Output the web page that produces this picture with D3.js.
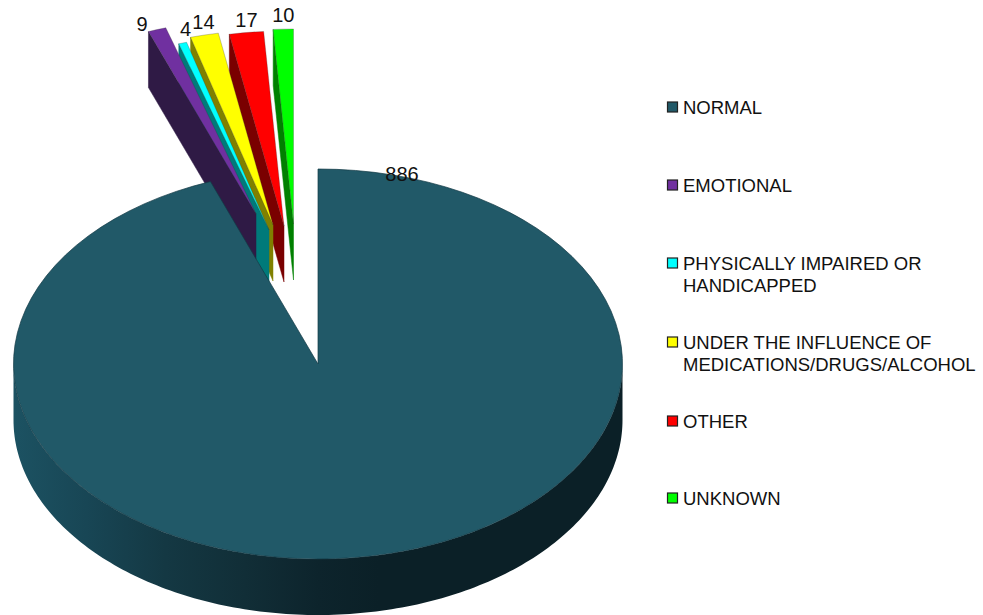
<!DOCTYPE html>
<html>
<head>
<meta charset="utf-8">
<script src="https://cdn.jsdelivr.net/npm/d3@7/dist/d3.min.js"></script>
<style>
html,body{margin:0;padding:0;background:#fff;}
svg{display:block;}
text{font-family:"Liberation Sans",Arial,sans-serif;fill:#111;}
</style>
</head>
<body>
<svg id="chart" width="983" height="615"></svg>
<script>
// ---- data ----
const categories = ["NORMAL","EMOTIONAL","PHYSICALLY IMPAIRED OR HANDICAPPED","UNDER THE INFLUENCE OF MEDICATIONS/DRUGS/ALCOHOL","OTHER","UNKNOWN"];
const values = [886,9,4,14,17,10];
const legendLines = [["NORMAL"],["EMOTIONAL"],["PHYSICALLY IMPAIRED OR","HANDICAPPED"],["UNDER THE INFLUENCE OF","MEDICATIONS/DRUGS/ALCOHOL"],["OTHER"],["UNKNOWN"]];

// ---- style and layout ----
const topColors  = ["#215968","#7030A0","#00FFFF","#FFFF00","#FF0000","#00FF00"];
const sideColors = ["#215968","#2F1A45","#007A7A","#808000","#7A0000","#008000"];
const W=983,H=615, cx=318, cy=364, rx=304.5, ry=195, depth=56;
// how far each slice has been pulled from the pie centre
const explode = [[0,0],[-62,-150],[-49,-134],[-45,-139],[-34,-138],[-24.5,-140]];
// data label centres relative to the exploded slice's outer midpoint
const labelNudge = [[0,0],[-15,-6],[3,-14],[-1,-13],[0,-12],[0,-14]];
const legendY = [107.5,185.5,263.5,342.5,421.5,498.5];

const svg = d3.select("#chart");
const defs = svg.append("defs");
const grad = defs.append("linearGradient").attr("id","rim").attr("gradientUnits","userSpaceOnUse")
  .attr("x1",cx-rx).attr("x2",cx+rx).attr("y1",0).attr("y2",0);
[[0,"#1C5262"],[0.12,"#184655"],[0.25,"#143843"],[0.38,"#112E37"],[0.5,"#0D242C"],[0.6,"#0B2027"],[1,"#0B2027"]]
  .forEach(s=>grad.append("stop").attr("offset",s[0]).attr("stop-color",s[1]));

const rxScale = d3.scaleLinear().domain([0,1]).range([0,rx]);
const ryScale = d3.scaleLinear().domain([0,1]).range([0,ry]);
const px = (a,o)=> cx + o[0] + rxScale(Math.sin(a));
const py = (a,o)=> cy + o[1] - ryScale(Math.cos(a));

// the pie starts with NORMAL at twelve o'clock, clockwise; the small slices finish at 360 degrees
const pie = d3.pie().sort(null).value(d=>d);
const arcs = pie(values);
const arc = d3.arc().innerRadius(0).outerRadius(ry);
const sx = rx/ry;

const area = d3.area().x(d=>d.x).y0(d=>d.y).y1(d=>d.y+depth).curve(d3.curveLinear);
const rimPts = d3.range(Math.PI/2, 3*Math.PI/2+0.001, Math.PI/180).map(a=>({x:px(a,[0,0]),y:py(a,[0,0])}));

// exploded slices are painted from right to left, so each one hides part of the side of its right neighbour
const small = svg.append("g");
arcs.slice(1).reverse().forEach(d=>{
  const i = d.index;
  const o = explode[i];
  const apex = {x:cx+o[0], y:cy+o[1]};
  const outer = {x:px(d.startAngle,o), y:py(d.startAngle,o)};
  small.append("path").attr("d",area([outer,apex]))
    .attr("fill",sideColors[i]).attr("stroke",sideColors[i]).attr("stroke-width",0.5);
  small.append("path").attr("d",arc(d))
    .attr("transform",`translate(${apex.x},${apex.y}) scale(${sx},1)`)
    .attr("fill",topColors[i]).attr("stroke","#333").attr("stroke-opacity",0.45)
    .attr("stroke-width",0.6).attr("vector-effect","non-scaling-stroke");
});

// main slice rim and face
svg.append("path").attr("d",area(rimPts)).attr("fill","url(#rim)");
svg.append("path").attr("d",arc(arcs[0]))
  .attr("transform",`translate(${cx},${cy}) scale(${sx},1)`)
  .attr("fill",topColors[0]).attr("stroke","#123a45").attr("stroke-width",0.7)
  .attr("vector-effect","non-scaling-stroke");

// data labels
arcs.forEach((d,i)=>{
  const mid=(d.startAngle+d.endAngle)/2, o=explode[i], n=labelNudge[i];
  let x=px(mid,o)+n[0], y=py(mid,o)+n[1];
  if(i===0){ x=402; y=174; }
  svg.append("text").attr("x",x).attr("y",y).attr("text-anchor","middle").attr("dy","0.35em")
    .attr("font-size",20).text(d.data);
});

// legend
const legend = svg.append("g");
categories.forEach((c,i)=>{
  legend.append("rect").attr("x",667.5).attr("y",legendY[i]-5.5).attr("width",10).attr("height",10)
    .attr("fill",topColors[i]).attr("stroke","#222").attr("stroke-width",1.2);
  const t = legend.append("text").attr("font-size",18.5).attr("y",legendY[i]).attr("dy","0.35em");
  legendLines[i].forEach((l,j)=>{
    t.append("tspan").attr("x",683).attr("dy",j===0?"0.35em":"22px").text(l);
  });
});
</script>
</body>
</html>
